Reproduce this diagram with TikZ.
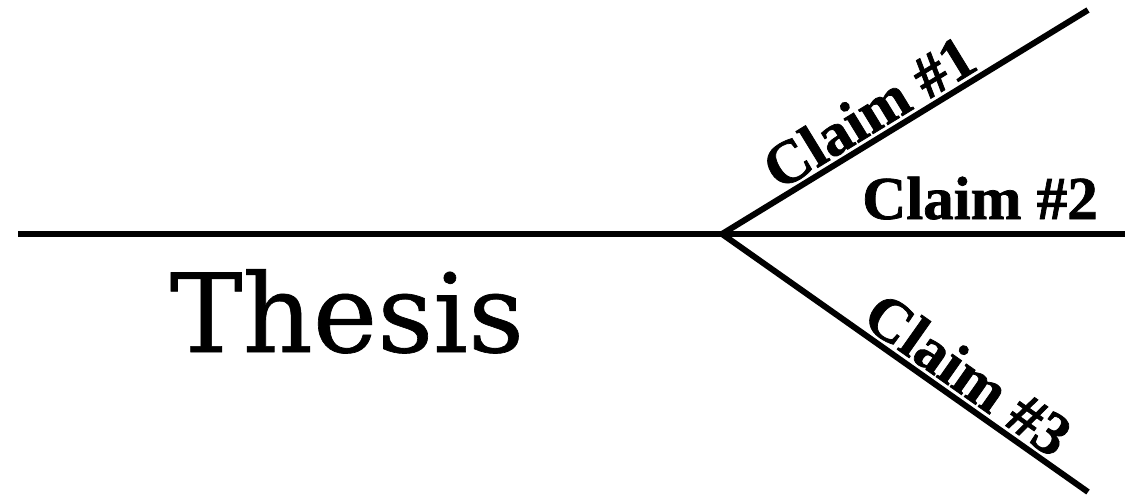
\documentclass[tikz,border=0pt]{standalone}
\usepackage{fontspec}
\setmainfont{Liberation Serif}
\newfontfamily\claimfont[FakeBold=1.2]{Liberation Serif}
\newfontfamily\thesisfont[FakeBold=0.6]{DejaVu Serif}
\begin{document}
\begin{tikzpicture}[x=1pt,y=-1pt,
  branch/.style={line width=6pt,black},
  claimlabel/.style={font=\claimfont\bfseries\fontsize{61}{61}\selectfont,inner sep=0pt,outer sep=0pt},
  thesislabel/.style={font=\thesisfont\fontsize{109}{109}\selectfont,inner sep=0pt}]
\useasboundingbox (0,0) rectangle (1140,498);
\coordinate (L) at (18,234);
\coordinate (B) at (722,234);
\coordinate (R) at (1125,234);
\coordinate (U) at (1088,10);
\coordinate (D) at (1088,492);
\draw[branch] (L) -- (R);
\draw[branch] (B) -- node[claimlabel,sloped,pos=0.44,above=6pt] (c1) {Claim \#1} (U);
\draw[branch] (B) -- node[claimlabel,sloped,pos=0.63,above=6pt] (c3) {Claim \#3} (D);
\node[claimlabel,anchor=base] (c2) at (980,219) {Claim \#2};
\node[thesislabel,anchor=base] (thesis) at (347,352) {Thesis};
\end{tikzpicture}
\end{document}
